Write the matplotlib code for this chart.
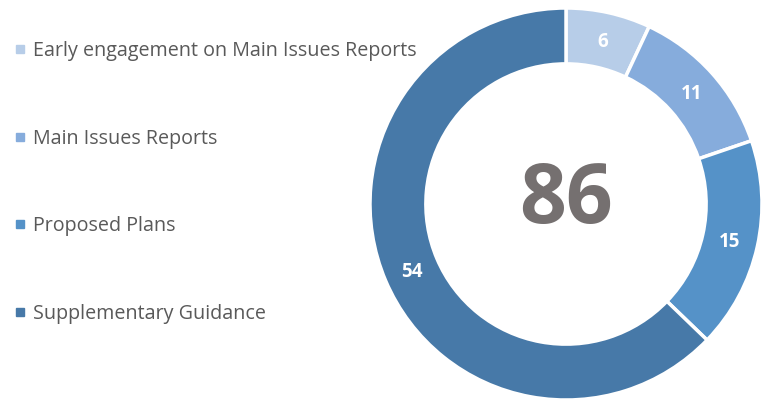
import matplotlib.pyplot as plt
import numpy as np
from matplotlib.lines import Line2D

plt.rcParams["font.family"] = ["Open Sans", "DejaVu Sans"]

# Chart data
categories = [
    "Early engagement on Main Issues Reports",
    "Main Issues Reports",
    "Proposed Plans",
    "Supplementary Guidance",
]
values = [6, 11, 15, 54]
colors = ["#b7cde8", "#86acdc", "#5592c8", "#4779a8"]
total = sum(values)

W, H = 763, 401
fig = plt.figure(figsize=(W / 100, H / 100), dpi=100)

# Donut: centre (566, 204) px, radius 196 px
cx, cy, r = 566, 204, 196
ax = fig.add_axes([(cx - r) / W, (H - cy - r) / H, 2 * r / W, 2 * r / H])
wedges, _ = ax.pie(
    values,
    colors=colors,
    startangle=90,
    counterclock=False,
    radius=1.0,
    wedgeprops=dict(width=0.285, edgecolor="white", linewidth=2.5),
)
ax.set_xlim(-1, 1)
ax.set_ylim(-1, 1)
ax.set_aspect("equal")
ax.axis("off")

# Value labels in the middle of the ring
angle = 90.0
for v in values:
    mid = np.deg2rad(angle - v / total * 360 / 2)
    angle -= v / total * 360
    ax.text(0.857 * np.cos(mid), 0.857 * np.sin(mid) - 0.01, str(v),
            ha="center", va="center", color="white",
            fontsize=13.5, fontweight="bold")

# Total in the centre
ax.text(0, 0.015, str(total), ha="center", va="center",
        color="#757070", fontsize=59, fontweight="bold")

# Legend on the left
handles = [
    Line2D([0], [0], marker="s", linestyle="", markersize=6,
           markerfacecolor=c, markeredgecolor=c)
    for c in colors
]
fig.legend(
    handles, categories,
    loc="upper left", bbox_to_anchor=(12 / W, 1 - 41 / H),
    frameon=False, fontsize=14.2, labelcolor="#595959",
    labelspacing=3.43, handlelength=0.8, handletextpad=0.25,
    borderpad=0, borderaxespad=0,
)

fig.savefig("out.png", dpi=100)
